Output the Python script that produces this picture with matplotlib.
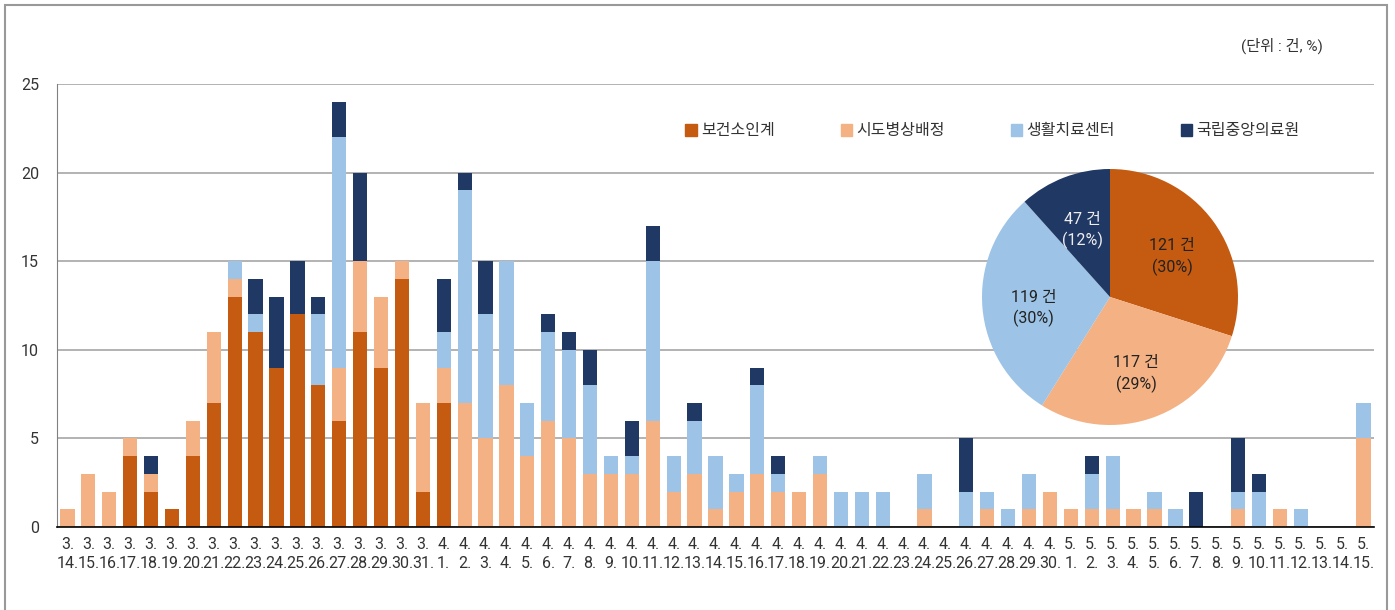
import matplotlib
matplotlib.use('Agg')
import matplotlib.pyplot as plt
from matplotlib.patches import Rectangle, Patch
import numpy as np

plt.rcParams['font.family'] = ['Roboto', 'Noto Sans CJK KR', 'DejaVu Sans']

# dates 3.14 ~ 5.15
months = [3] * 18 + [4] * 30 + [5] * 15
days = list(range(14, 32)) + list(range(1, 31)) + list(range(1, 16))
labels = ['%d.\n%d.' % (m, d) for m, d in zip(months, days)]

# 보건소인계
s_bogun = [0, 0, 0, 4, 2, 1, 4, 7, 13, 11, 9, 12, 8, 6, 11, 9, 14, 2,
           7, 0, 0, 0, 0, 0, 0, 0, 0, 0, 0, 0, 0, 0, 0, 0, 0, 0, 0, 0, 0, 0, 0, 0, 0, 0, 0, 0, 0, 0,
           0, 0, 0, 0, 0, 0, 0, 0, 0, 0, 0, 0, 0, 0, 0]
# 시도병상배정
s_sido = [1, 3, 2, 1, 1, 0, 2, 4, 1, 0, 0, 0, 0, 3, 4, 4, 1, 5,
          2, 7, 5, 8, 4, 6, 5, 3, 3, 3, 6, 2, 3, 1, 2, 3, 2, 2, 3, 0, 0, 0, 0, 1, 0, 0, 1, 0, 1, 2,
          1, 1, 1, 1, 1, 0, 0, 0, 1, 0, 1, 0, 0, 0, 5]
# 생활치료센터
s_center = [0, 0, 0, 0, 0, 0, 0, 0, 1, 1, 0, 0, 4, 13, 0, 0, 0, 0,
            2, 12, 7, 7, 3, 5, 5, 5, 1, 1, 9, 2, 3, 3, 1, 5, 1, 0, 1, 2, 2, 2, 0, 2, 0, 2, 1, 1, 2, 0,
            0, 2, 3, 0, 1, 1, 0, 0, 1, 2, 0, 1, 0, 0, 2]
# 국립중앙의료원
s_nmc = [0, 0, 0, 0, 1, 0, 0, 0, 0, 2, 4, 3, 1, 2, 5, 0, 0, 0,
         3, 1, 3, 0, 0, 1, 1, 2, 0, 2, 2, 0, 1, 0, 0, 1, 1, 0, 0, 0, 0, 0, 0, 0, 0, 3, 0, 0, 0, 0,
         0, 1, 0, 0, 0, 0, 2, 0, 3, 1, 0, 0, 0, 0, 0]

names = ['보건소인계', '시도병상배정', '생활치료센터', '국립중앙의료원']
colors = ['#C55A11', '#F4B183', '#9DC3E6', '#203864']

pie_vals = [121, 117, 119, 47]
pie_pct = [30, 29, 30, 12]

W, H = 1395, 610
fig = plt.figure(figsize=(W / 100, H / 100), dpi=100)

def px(x0, y0, x1, y1):
    return [x0 / W, 1 - y1 / H, (x1 - x0) / W, (y1 - y0) / H]

ax = fig.add_axes(px(57, 84, 1374, 527))
x = np.arange(len(labels))
bottom = np.zeros(len(labels))
for s, c in zip([s_bogun, s_sido, s_center, s_nmc], colors):
    ax.bar(x, s, width=0.68, bottom=bottom, color=c, linewidth=0, zorder=3)
    bottom += np.array(s)

ax.set_xlim(-0.5, len(labels) - 0.5)
ax.set_ylim(0, 25)
ax.set_yticks([0, 5, 10, 15, 20, 25])
ax.yaxis.grid(True, color='#A6A6A6', linewidth=1.2, zorder=0)
ax.set_xticks(x)
ax.set_xticklabels(labels, fontsize=11.5, color='#333333', linespacing=1.35)
ax.tick_params(axis='x', length=0, pad=7)
ax.tick_params(axis='y', length=0, pad=13, labelsize=11.5, labelcolor='#333333')
for k in ['top', 'right']:
    ax.spines[k].set_visible(False)
ax.spines['left'].set_color('#808080')
ax.spines['bottom'].set_color('black')
ax.spines['bottom'].set_linewidth(1.2)
ax.spines['bottom'].set_zorder(4)

handles = [Patch(color=c) for c in colors]
ax.legend(handles, names, loc='center left', bbox_to_anchor=(614 / 1317, 1 - (131 - 84) / 443),
          ncol=4, frameon=False, fontsize=11.5, handlelength=0.7, handleheight=0.7,
          handletextpad=0.3, columnspacing=4.1, labelcolor='#333333')

fig.text(1323 / W, 1 - 46 / H, '(단위 : 건, %)', ha='right', va='center', fontsize=11, color='#333333')

# pie inset
r = 128
cx, cy = 1110, 297
pax = fig.add_axes(px(cx - r, cy - r, cx + r, cy + r))
wedges, _ = pax.pie(pie_vals, colors=colors, startangle=90, counterclock=False,
                    radius=1, wedgeprops=dict(linewidth=0))
pax.set_xlim(-1, 1)
pax.set_ylim(-1, 1)
txt_col = ['#222222', '#222222', '#222222', '#EEEEEE']
for w, v, p, tc in zip(wedges, pie_vals, pie_pct, txt_col):
    ang = np.deg2rad((w.theta1 + w.theta2) / 2)
    pax.text(0.6 * np.cos(ang), 0.6 * np.sin(ang) - 0.04, '%d 건\n(%d%%)' % (v, p),
             ha='center', va='center', fontsize=11.5, color=tc, linespacing=1.4)

# outer frame
fig.add_artist(Rectangle((5 / W, -0.1), (1387 - 5) / W, 1.1 - 5 / H, transform=fig.transFigure,
                         fill=False, edgecolor='#999999', linewidth=1.5))

fig.savefig('out.png', dpi=100)
